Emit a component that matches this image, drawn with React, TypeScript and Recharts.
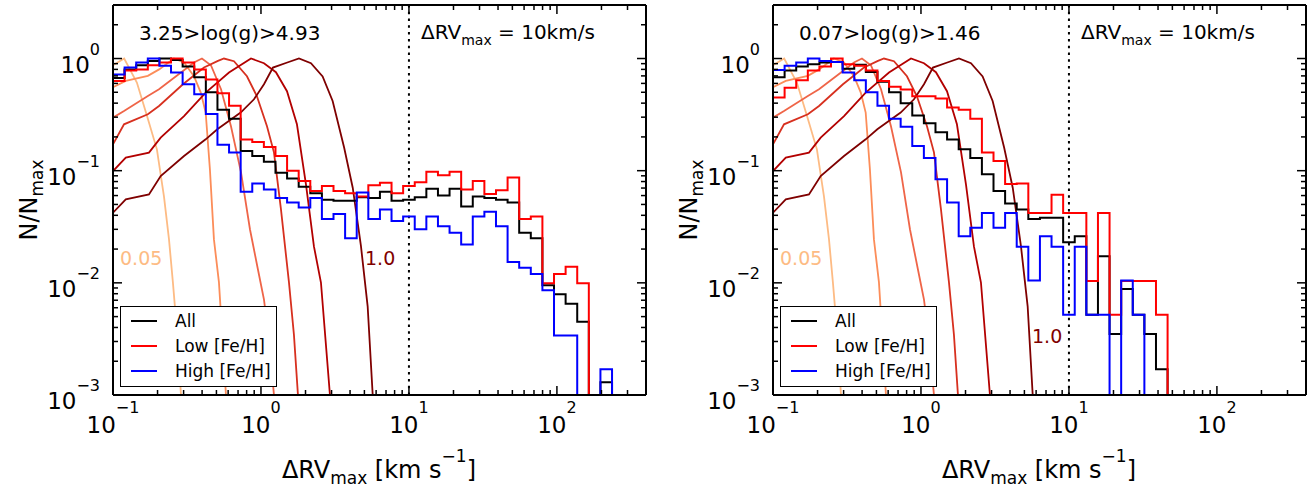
import React from "react";
import { ComposedChart, Line, XAxis, YAxis, ReferenceLine } from "recharts";

const FONT = "'DejaVu Sans', sans-serif";

// log-spaced histogram bins (0.1 .. 1000 km/s, 51 bins)
const BIN_EDGES = Array.from({ length: 52 }, (_, k) => Math.pow(10, -1 + (k * 4) / 51));
const EMPTY = 1e-5; // empty bins fall below the axis

// 3.25 > log(g) > 4.93
const ALL_DWARF = [
  0.67, 0.8, 0.87, 0.95, 1.0, 0.97, 0.85, 0.68, 0.5, 0.35, 0.29, 0.15, 0.135, 0.12, 0.096, 0.085,
  0.072, 0.063, 0.055, 0.054, 0.054, 0.058, 0.057, 0.065, 0.054, 0.055, 0.058, 0.069, 0.06, 0.069,
  0.048, 0.059, 0.057, 0.055, 0.052, 0.028, 0.025, 0.0095, 0.0079, 0.0065, 0.0045, 0, 0.0013, 0,
];
const LOW_DWARF = [
  0.63, 0.78, 0.8, 0.87, 0.92, 1.0, 0.92, 0.8, 0.65, 0.49, 0.38, 0.19, 0.18, 0.163, 0.135, 0.1,
  0.081, 0.066, 0.073, 0.066, 0.063, 0.059, 0.074, 0.078, 0.063, 0.073, 0.079, 0.098, 0.091, 0.098,
  0.068, 0.081, 0.062, 0.067, 0.087, 0.037, 0.039, 0.0099, 0.012, 0.0139, 0.0099, 0,
];
const HIGH_DWARF = [
  0.72, 0.83, 0.92, 1.0, 0.86, 0.75, 0.59, 0.48, 0.32, 0.17, 0.145, 0.065, 0.077, 0.068, 0.057, 0.052,
  0.047, 0.057, 0.037, 0.041, 0.025, 0.064, 0.037, 0.045, 0.0355, 0.039, 0.03, 0.039, 0.032, 0.028,
  0.022, 0.039, 0.043, 0.032, 0.0153, 0.0136, 0.012, 0.0086, 0.0034, 0.0034, 0, 0, 0.0017, 0,
];

// 0.07 > log(g) > 1.46
const ALL_GIANT = [
  0.68, 0.78, 0.85, 0.89, 0.92, 0.93, 0.81, 0.88, 0.76, 0.62, 0.5, 0.4, 0.31, 0.265, 0.22, 0.19,
  0.155, 0.13, 0.093, 0.066, 0.051, 0.045, 0.037, 0.038, 0.038, 0.023, 0.026, 0.0052, 0.0173, 0.0035,
  0.0088, 0.0052, 0.0035, 0.0017, 0,
];
const LOW_GIANT = [
  0.45, 0.55, 0.64, 0.78, 0.85, 1.0, 0.89, 0.86, 0.78, 0.63, 0.56, 0.53, 0.46, 0.46, 0.44, 0.365,
  0.35, 0.29, 0.145, 0.122, 0.076, 0.077, 0.042, 0.042, 0.061, 0.042, 0.042, 0.0104, 0.042, 0.0052,
  0.0104, 0.0104, 0.0104, 0.0052, 0,
];
const HIGH_GIANT = [
  0.79, 0.86, 0.92, 1.0, 0.95, 0.93, 0.75, 0.64, 0.5, 0.38, 0.29, 0.247, 0.166, 0.13, 0.084, 0.052,
  0.026, 0.031, 0.042, 0.031, 0.042, 0.021, 0.0105, 0.026, 0.021, 0.0052, 0.021, 0.0052, 0.0052, 0,
  0.0105, 0.0052, 0,
];

// model curves [dRV, N/Nmax], from 0.05 (lightest) to 1.0 (darkest)
const MODEL_1 = [
  [0.1, 0.87], [0.119, 1.0], [0.145, 0.61], [0.17, 0.305], [0.198, 0.155], [0.221, 0.059],
  [0.239, 0.0244], [0.254, 0.0101], [0.2735, 0.0031], [0.288, 0.001], [0.3, 0.0005],
];
const MODEL_2 = [
  [0.1, 0.554], [0.122, 0.631], [0.172, 0.7], [0.205, 0.8], [0.258, 1.0], [0.302, 0.921],
  [0.3525, 0.695], [0.392, 0.497], [0.423, 0.33], [0.452, 0.102], [0.481, 0.0244], [0.52, 0.0101],
  [0.58, 0.001], [0.6, 0.0005],
];
const MODEL_3 = [
  [0.1, 0.297], [0.1187, 0.34], [0.172, 0.464], [0.2046, 0.532], [0.297, 0.775], [0.3525, 0.921],
  [0.399, 1.0], [0.459, 0.871], [0.537, 0.532], [0.627, 0.249], [0.733, 0.0966], [0.843, 0.0299],
  [0.954, 0.01315], [1.048, 0.0071], [1.133, 0.00312], [1.224, 0.001], [1.26, 0.0005],
];
const MODEL_4 = [
  [0.1, 0.172], [0.1187, 0.259], [0.172, 0.318], [0.2046, 0.377], [0.297, 0.59], [0.412, 0.831],
  [0.512, 0.952], [0.5623, 1.0], [0.657, 0.946], [0.804, 0.695], [0.939, 0.461], [1.098, 0.249],
  [1.224, 0.1457], [1.365, 0.0451], [1.546, 0.0101], [1.67, 0.00345], [1.778, 0.001], [1.83, 0.0005],
];
const MODEL_5 = [
  [0.1, 0.0992], [0.122, 0.1306], [0.175, 0.1448], [0.21, 0.197], [0.302, 0.307], [0.423, 0.497],
  [0.608, 0.75], [0.856, 1.0], [1.048, 0.908], [1.262, 0.755], [1.499, 0.511], [1.75, 0.259],
  [2.014, 0.0755], [2.28, 0.0211], [2.543, 0.01007], [2.925, 0.001], [3.0, 0.0005],
];
const MODEL_6 = [
  [0.1, 0.0422], [0.122, 0.0554], [0.175, 0.0614], [0.21, 0.0895], [0.302, 0.135], [0.423, 0.1904],
  [0.507, 0.234], [0.729, 0.33], [0.897, 0.433], [1.048, 0.59], [1.205, 0.831], [1.506, 0.921],
  [1.806, 1.0], [2.177, 0.908], [2.61, 0.691], [3.05, 0.418], [3.65, 0.16], [4.17, 0.0705],
  [4.74, 0.0212], [5.26, 0.00618], [5.69, 0.001], [5.85, 0.0005],
];
const MODELS = [MODEL_1, MODEL_2, MODEL_3, MODEL_4, MODEL_5, MODEL_6];
const MODEL_COLORS = ["#fdbb84", "#fc8d59", "#ef6548", "#d7301f", "#b30000", "#7f0000"];

const X_TICKS = [
  0.1, 0.2, 0.3, 0.4, 0.5, 0.6, 0.7, 0.8, 0.9, 1, 2, 3, 4, 5, 6, 7, 8, 9, 10, 20, 30, 40, 50, 60,
  70, 80, 90, 100, 200, 300, 400,
];
const Y_TICKS = [
  0.001, 0.002, 0.003, 0.004, 0.005, 0.006, 0.007, 0.008, 0.009, 0.01, 0.02, 0.03, 0.04, 0.05,
  0.06, 0.07, 0.08, 0.09, 0.1, 0.2, 0.3, 0.4, 0.5, 0.6, 0.7, 0.8, 0.9, 1, 2, 3,
];

// plot box inside each 660x487 panel
const PL = 113;
const PT = 5;
const PR = 646;
const PB = 395;
const MAJOR = 9;
const MINOR = 5;

const isMajor = (v: number) => Math.abs(Math.log10(v) - Math.round(Math.log10(v))) < 1e-6;
const expText = (v: number) => {
  const e = Math.round(Math.log10(v));
  return e < 0 ? `\u2212${-e}` : `${e}`;
};

function BottomTick(props: any) {
  const { x, payload } = props;
  const major = isMajor(payload.value);
  return (
    <g>
      <line x1={x} x2={x} y1={PB} y2={PB - (major ? MAJOR : MINOR)} stroke="#000" strokeWidth={1.5} />
      {major && (
        <text x={x} y={PB + 38} textAnchor="middle" fontFamily={FONT} fill="#000">
          <tspan fontSize={23}>10</tspan>
          <tspan fontSize={16} dy={-20}>{expText(payload.value)}</tspan>
        </text>
      )}
    </g>
  );
}

function TopTick(props: any) {
  const { x, payload } = props;
  const len = isMajor(payload.value) ? MAJOR : MINOR;
  return <line x1={x} x2={x} y1={PT} y2={PT + len} stroke="#000" strokeWidth={1.5} />;
}

function LeftTick(props: any) {
  const { y, payload } = props;
  const major = isMajor(payload.value);
  return (
    <g>
      <line x1={PL} x2={PL + (major ? MAJOR : MINOR)} y1={y} y2={y} stroke="#000" strokeWidth={1.5} />
      {major && (
        <text x={100} y={y + 14} textAnchor="end" fontFamily={FONT} fill="#000">
          <tspan fontSize={23}>10</tspan>
          <tspan fontSize={16} dy={-18}>{expText(payload.value)}</tspan>
        </text>
      )}
    </g>
  );
}

function RightTick(props: any) {
  const { y, payload } = props;
  const len = isMajor(payload.value) ? MAJOR : MINOR;
  return <line x1={PR} x2={PR - len} y1={y} y2={y} stroke="#000" strokeWidth={1.5} />;
}

function toSteps(vals: number[]) {
  const pts = vals.map((v, k) => ({ x: BIN_EDGES[k], y: v > 0 ? v : EMPTY }));
  pts.push({ x: BIN_EDGES[vals.length], y: pts[pts.length - 1].y });
  return pts;
}

const AXIS_LINE = { stroke: "#000", strokeWidth: 2 };

type PanelProps = {
  title: string;
  all: number[];
  low: number[];
  high: number[];
  oneLabel: { x: number; y: number };
};

function Panel({ title, all, low, high, oneLabel }: PanelProps) {
  const hists = [
    { name: "All", color: "#000000", data: toSteps(all) },
    { name: "Low [Fe/H]", color: "#ff0000", data: toSteps(low) },
    { name: "High [Fe/H]", color: "#0000ff", data: toSteps(high) },
  ];
  return (
    <div style={{ position: "relative", width: 660, height: 487 }}>
      <ComposedChart width={660} height={487} margin={{ top: PT - 1, right: 660 - PR - 1, bottom: 487 - PB - 1, left: PL - 1 }}>
        <XAxis xAxisId="b" type="number" dataKey="x" scale="log" domain={[0.1, 400]} allowDataOverflow
          ticks={X_TICKS} interval={0} tickSize={0} tickLine={false} tick={BottomTick} axisLine={AXIS_LINE} height={1} />
        <XAxis xAxisId="t" orientation="top" type="number" dataKey="x" scale="log" domain={[0.1, 400]} allowDataOverflow
          ticks={X_TICKS} interval={0} tickSize={0} tickLine={false} tick={TopTick} axisLine={AXIS_LINE} height={1} />
        <YAxis yAxisId="l" type="number" scale="log" domain={[0.001, 3]} allowDataOverflow
          ticks={Y_TICKS} interval={0} tickSize={0} tickLine={false} tick={LeftTick} axisLine={AXIS_LINE} width={1} />
        <YAxis yAxisId="r" orientation="right" type="number" scale="log" domain={[0.001, 3]} allowDataOverflow
          ticks={Y_TICKS} interval={0} tickSize={0} tickLine={false} tick={RightTick} axisLine={AXIS_LINE} width={1} />
        <ReferenceLine xAxisId="b" yAxisId="l" x={10} stroke="#000" strokeWidth={2} strokeDasharray="2.5 4.3" />
        {MODELS.map((m, i) => (
          <Line key={`m${i}`} xAxisId="b" yAxisId="l" data={m.map(([x, y]) => ({ x, y }))} dataKey="y"
            type="linear" stroke={MODEL_COLORS[i]} strokeWidth={1.8} dot={false} isAnimationActive={false} />
        ))}
        {hists.map((h) => (
          <Line key={h.name} xAxisId="b" yAxisId="l" data={h.data} dataKey="y" type="stepAfter"
            stroke={h.color} strokeWidth={2} dot={false} isAnimationActive={false} />
        ))}
      </ComposedChart>
      <svg width={660} height={487} style={{ position: "absolute", left: 0, top: 0, pointerEvents: "none" }} fontFamily={FONT}>
        <text x={139} y={40} fontSize={20} fill="#000">{title}</text>
        <text x={421} y={39} fontSize={20} fill="#000">
          ΔRV<tspan fontSize={14} dy={6}>max</tspan><tspan dy={-6}> = 10km/s</tspan>
        </text>
        <text x={120} y={265} fontSize={19} fill="#fdbb84">0.05</text>
        <text x={oneLabel.x} y={oneLabel.y} fontSize={19} fill="#7f0000">1.0</text>
        <g>
          <rect x={120.5} y={306.5} width={156} height={80} fill="#fff" stroke="#000" strokeWidth={1} />
          {hists.map((h, i) => (
            <g key={h.name}>
              <line x1={131} x2={157} y1={321 + i * 25} y2={321 + i * 25} stroke={h.color} strokeWidth={2} />
              <text x={175} y={327 + i * 25} fontSize={17} fill="#000">{h.name}</text>
            </g>
          ))}
        </g>
        <text x={379} y={478} fontSize={24} textAnchor="middle" fill="#000">
          ΔRV<tspan fontSize={17} dy={6}>max</tspan><tspan dy={-6}> [km s</tspan>
          <tspan fontSize={17} dy={-16}>−1</tspan><tspan dy={16}>]</tspan>
        </text>
        <text x={37} y={200} fontSize={24} textAnchor="middle" fill="#000" transform="rotate(-90 37 200)">
          N/N<tspan fontSize={17} dy={6}>max</tspan>
        </text>
      </svg>
    </div>
  );
}

export default function App() {
  return (
    <div style={{ position: "absolute", left: 0, top: 0, width: 1312, height: 487, background: "#fff" }}>
      <div style={{ position: "absolute", left: 0, top: 0 }}>
        <Panel title="3.25>log(g)>4.93" all={ALL_DWARF} low={LOW_DWARF} high={HIGH_DWARF} oneLabel={{ x: 365, y: 265 }} />
      </div>
      <div style={{ position: "absolute", left: 660, top: 0 }}>
        <Panel title="0.07>log(g)>1.46" all={ALL_GIANT} low={LOW_GIANT} high={HIGH_GIANT} oneLabel={{ x: 372, y: 343 }} />
      </div>
    </div>
  );
}
